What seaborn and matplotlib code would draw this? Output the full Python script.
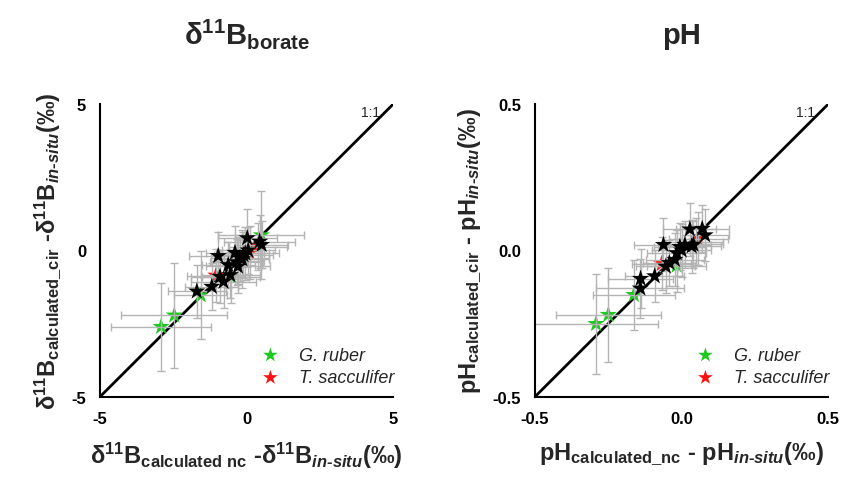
import matplotlib
matplotlib.use("Agg")
import matplotlib.pyplot as plt
from matplotlib import font_manager
import seaborn as sns
import pandas as pd

# ---------------- data ----------------
# delta11B panel
b_black_x = [-1.70, -1.19, -0.97, -0.91, -0.79, -0.63, -0.56, -0.40, -0.34, -0.30, -0.23, -0.15, -0.11, -0.05, 0.02, 0.05, 0.44, 0.51]
b_black_y = [-1.40, -1.24, -0.19, -0.90, -1.07, -0.50, -0.84, -0.08, -0.40, -0.55, -0.26, -0.30, -0.16, -0.10, 0.42, 0.00, 0.30, 0.19]
b_black_xe = [1.0, 0.9, 1.0, 1.0, 1.1, 0.9, 1.0, 1.0, 0.9, 1.1, 1.0, 0.9, 1.0, 0.8, 1.0, 0.9, 1.2, 0.9]
b_black_ye = [0.9, 0.8, 0.8, 0.9, 0.9, 0.8, 0.8, 0.9, 0.8, 0.9, 0.8, 1.0, 0.8, 0.9, 1.0, 0.8, 0.9, 0.8]
b_green_x = [-2.92, -2.47, -1.57, -0.53, 0.50]
b_green_y = [-2.61, -2.22, -1.53, -0.90, 0.52]
b_green_xe = [1.7, 1.8, 0.9, 1.0, 1.47]
b_green_ye = [1.5, 1.8, 1.5, 0.9, 1.5]
b_red_x = [-1.05, -0.30, 0.10, 0.38]
b_red_y = [-0.86, -0.35, -0.08, 0.13]
b_red_xe = [1.0, 0.9, 1.0, 1.0]
b_red_ye = [0.9, 0.8, 0.9, 0.8]

# pH panel
p_black_x = [-0.141, -0.140, -0.092, -0.062, -0.054, -0.042, -0.023, -0.017, -0.006, 0.000, 0.011, 0.034, 0.040, 0.028, 0.070, 0.080]
p_black_y = [-0.130, -0.097, -0.088, 0.019, -0.055, -0.043, -0.032, -0.009, 0.012, 0.000, 0.019, 0.014, 0.020, 0.072, 0.074, 0.052]
p_black_xe = [0.15, 0.11, 0.10, 0.10, 0.10, 0.09, 0.10, 0.10, 0.09, 0.10, 0.09, 0.10, 0.10, 0.09, 0.09, 0.08]
p_black_ye = [0.10, 0.10, 0.09, 0.09, 0.09, 0.08, 0.09, 0.08, 0.08, 0.09, 0.08, 0.09, 0.08, 0.09, 0.08, 0.09]
p_green_x = [-0.292, -0.250, -0.163, -0.017]
p_green_y = [-0.251, -0.220, -0.152, -0.052]
p_green_xe = [0.21, 0.18, 0.14, 0.10]
p_green_ye = [0.17, 0.16, 0.12, 0.09]
p_red_x = [-0.068, 0.050, 0.057]
p_red_y = [-0.046, 0.030, 0.040]
p_red_xe = [0.10, 0.09, 0.10]
p_red_ye = [0.09, 0.08, 0.09]

b_ticks = [-5, 0, 5]
b_ticklabels = ["-5", "0", "5"]
p_ticks = [-0.5, 0.0, 0.5]
p_ticklabels = ["-0.5", "0.0", "0.5"]

species = ["G. ruber", "T. sacculifer"]

# ---------------- style ----------------
sns.set_theme(style="white")
names = {f.name for f in font_manager.fontManager.ttflist}
fam = "Liberation Sans Narrow" if "Liberation Sans Narrow" in names else "Liberation Sans"
plt.rcParams["font.family"] = [fam, "DejaVu Sans"]
plt.rcParams["font.weight"] = "bold"
plt.rcParams["mathtext.fontset"] = "custom"
plt.rcParams["mathtext.rm"] = f"{fam}:bold"
plt.rcParams["mathtext.bf"] = f"{fam}:bold"
plt.rcParams["mathtext.it"] = f"{fam}:italic:bold"
plt.rcParams["mathtext.sf"] = f"{fam}:bold"

GREEN = "#1ec81e"
RED = "#ff1010"
GRAY = "#b4b4b4"
HY = "\u2010"
D = r"$\mathregular{\delta}^{11}$"

fig = plt.figure(figsize=(8.48, 4.81), dpi=100)
axL = fig.add_axes([0.118, 0.1732, 0.3458, 0.6085])
axR = fig.add_axes([0.6309, 0.1732, 0.3459, 0.6085])


def df_of(x, y):
    return pd.DataFrame({"x": x, "y": y})


def draw(ax, lim, black, green, red, ticks, ticklabels):
    ax.set_xlim(-lim, lim)
    ax.set_ylim(-lim, lim)
    ax.plot([-lim, lim], [-lim, lim], color="black", lw=2.0, zorder=1)
    for (x, y, xe, ye) in (green, red, black):
        ax.errorbar(x, y, xerr=xe, yerr=ye, fmt="none", ecolor=GRAY,
                    elinewidth=1.0, capsize=3, capthick=1.0, zorder=2.5)
    sns.scatterplot(data=df_of(green[0], green[1]), x="x", y="y", ax=ax,
                    marker="*", s=170, color=GREEN, edgecolor="none", zorder=2, label=species[0])
    sns.scatterplot(data=df_of(red[0], red[1]), x="x", y="y", ax=ax,
                    marker="*", s=170, color=RED, edgecolor="none", zorder=2, label=species[1])
    sns.scatterplot(data=df_of(black[0], black[1]), x="x", y="y", ax=ax,
                    marker="*", s=170, color="black", edgecolor="none", zorder=3)
    ax.set_xticks(ticks)
    ax.set_xticklabels(ticklabels)
    ax.set_yticks(ticks)
    ax.set_yticklabels(ticklabels)
    for s in ["top", "right"]:
        ax.spines[s].set_visible(False)
    for s in ["left", "bottom"]:
        ax.spines[s].set_color("black")
        ax.spines[s].set_linewidth(1.5)
    ax.tick_params(axis="x", direction="in", length=4, width=1.5, pad=10, labelsize=12, colors="black")
    ax.tick_params(axis="y", direction="out", length=4, width=1.5, pad=6, labelsize=12, colors="black")
    for lab in ax.get_xticklabels() + ax.get_yticklabels():
        lab.set_fontweight("bold")
    ax.text(0.78 * lim, 0.945 * lim, "1:1", fontsize=10, fontweight="normal", ha="left", va="center")
    ax.legend(loc="lower right", bbox_to_anchor=(1.06, -0.02), frameon=False,
              prop={"style": "italic", "weight": "normal", "size": 13},
              handletextpad=0.6, labelspacing=0.3, markerscale=0.85)
    ax.set_xlabel("")
    ax.set_ylabel("")


draw(axL, 5,
     (b_black_x, b_black_y, b_black_xe, b_black_ye),
     (b_green_x, b_green_y, b_green_xe, b_green_ye),
     (b_red_x, b_red_y, b_red_xe, b_red_ye), b_ticks, b_ticklabels)
draw(axR, 0.5,
     (p_black_x, p_black_y, p_black_xe, p_black_ye),
     (p_green_x, p_green_y, p_green_xe, p_green_ye),
     (p_red_x, p_red_y, p_red_xe, p_red_ye), p_ticks, p_ticklabels)

axL.set_title(D + r"B$_{\mathregular{borate}}$", fontsize=21, fontweight="bold", pad=44)
axR.set_title("pH", fontsize=21, fontweight="bold", pad=44)

axL.set_xlabel(D + r"B$_{\mathregular{calculated\ nc}}$ -" + D + r"B$_{in" + HY + r"situ}$(‰)",
               fontsize=17, fontweight="bold", labelpad=10)
axL.set_ylabel(D + r"B$_{\mathregular{calculated\_cir}}$ -" + D + r"B$_{in" + HY + r"situ}$(‰)",
               fontsize=17, fontweight="bold", labelpad=6)
axR.set_xlabel(r"pH$_{\mathregular{calculated\_nc}}$ - pH$_{in" + HY + r"situ}$(‰)",
               fontsize=17, fontweight="bold", labelpad=10)
axR.set_ylabel(r"pH$_{\mathregular{calculated\_cir}}$ - pH$_{in" + HY + r"situ}$(‰)",
               fontsize=17, fontweight="bold", labelpad=6)

fig.savefig("out.png", dpi=100)
